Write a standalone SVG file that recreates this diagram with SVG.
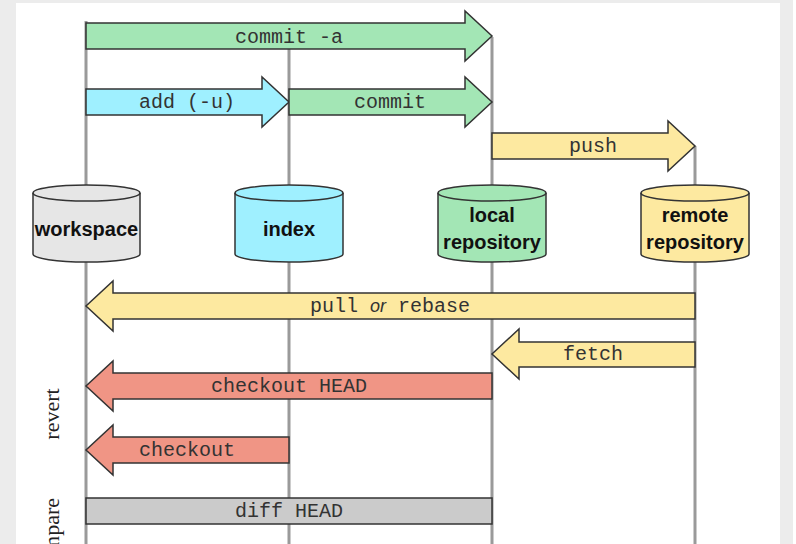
<svg xmlns="http://www.w3.org/2000/svg" width="796" height="544" viewBox="0 0 796 544">
<defs>
<style>
.lane{stroke:#9a9a9a;stroke-width:3;fill:none}
.arr{stroke:#333;stroke-width:1.5;stroke-linejoin:miter}
.green{fill:#a3e6b5}
.cyan{fill:#9ff0ff}
.yellow{fill:#fde9a0}
.red{fill:#f09585}
.gray{fill:#cbcbcb}
.cyl{stroke:#333;stroke-width:1.5}
.lbl{font-family:"Liberation Mono","Courier New",monospace;font-size:20px;fill:#333;text-anchor:middle}
.node{font-family:"Liberation Sans",Arial,sans-serif;font-weight:bold;font-size:20px;fill:#111;text-anchor:middle}
.side{font-family:"Liberation Serif","Times New Roman",serif;font-size:22px;fill:#222;text-anchor:middle}
</style>
</defs>
<rect x="0" y="0" width="796" height="544" fill="#ececec"/>
<rect x="16" y="3" width="764" height="541" fill="#ffffff"/>
<rect x="793" y="0" width="3" height="544" fill="#ffffff"/>

<g id="lanes">
<line class="lane" x1="86" y1="21" x2="86" y2="544"/>
<line class="lane" x1="289" y1="49" x2="289" y2="544"/>
<line class="lane" x1="492" y1="37" x2="492" y2="544"/>
<line class="lane" x1="695" y1="146" x2="695" y2="544"/>
</g>

<g id="connectors">
<g id="commit-a">
<polygon class="arr green" points="86,23 465,23 465,11 492,36 465,61 465,49 86,49"/>
<text class="lbl" x="289" y="43">commit -a</text>
</g>
<g id="add">
<polygon class="arr cyan" points="86,89 262,89 262,77 289,102 262,127 262,115 86,115"/>
<text class="lbl" x="187" y="108">add (-u)</text>
</g>
<g id="commit">
<polygon class="arr green" points="289,89 465,89 465,77 492,102 465,127 465,115 289,115"/>
<text class="lbl" x="390" y="108">commit</text>
</g>
<g id="push">
<polygon class="arr yellow" points="492,133 668,133 668,121 695,146 668,171 668,159 492,159"/>
<text class="lbl" x="593" y="152">push</text>
</g>
<g id="pull">
<polygon class="arr yellow" points="695,293 113,293 113,281 86,306 113,331 113,319 695,319"/>
<text class="lbl" x="390" y="312">pull <tspan font-family="Liberation Sans, Arial, sans-serif" font-style="italic" font-size="18">or</tspan> rebase</text>
</g>
<g id="fetch">
<polygon class="arr yellow" points="695,342 519,342 519,329 492,354 519,379 519,367 695,367"/>
<text class="lbl" x="593" y="360">fetch</text>
</g>
<g id="checkout-head">
<polygon class="arr red" points="492,373 113,373 113,361 86,386 113,411 113,399 492,399"/>
<text class="lbl" x="289" y="392">checkout HEAD</text>
</g>
<g id="checkout">
<polygon class="arr red" points="289,437 113,437 113,425 86,450 113,475 113,463 289,463"/>
<text class="lbl" x="187" y="456">checkout</text>
</g>
<g id="diff-head">
<rect class="arr gray" x="86" y="498" width="406" height="26"/>
<text class="lbl" x="289" y="517">diff HEAD</text>
</g>
</g>

<g id="workspace">
<path class="cyl" fill="#e6e6e6" d="M33,193 L33,254 A53.5,8 0 0 0 140,254 L140,193 A53.5,8 0 0 0 33,193 Z"/>
<path class="cyl" fill="none" d="M33,193 A53.5,8 0 0 0 140,193"/>
<text class="node" x="86.5" y="236">workspace</text>
</g>
<g id="index">
<path class="cyl" fill="#9ff0ff" d="M235,193 L235,254 A54,8 0 0 0 343,254 L343,193 A54,8 0 0 0 235,193 Z"/>
<path class="cyl" fill="none" d="M235,193 A54,8 0 0 0 343,193"/>
<text class="node" x="289" y="236">index</text>
</g>
<g id="local">
<path class="cyl" fill="#a3e6b5" d="M438,193 L438,254 A54,8 0 0 0 546,254 L546,193 A54,8 0 0 0 438,193 Z"/>
<path class="cyl" fill="none" d="M438,193 A54,8 0 0 0 546,193"/>
<text class="node" x="492" y="222">local</text>
<text class="node" x="492" y="249">repository</text>
</g>
<g id="remote">
<path class="cyl" fill="#fde9a0" d="M641,193 L641,254 A54,8 0 0 0 749,254 L749,193 A54,8 0 0 0 641,193 Z"/>
<path class="cyl" fill="none" d="M641,193 A54,8 0 0 0 749,193"/>
<text class="node" x="695" y="222">remote</text>
<text class="node" x="695" y="249">repository</text>
</g>

<g id="side-labels">
<text class="side" transform="translate(59,414) rotate(-90)">revert</text>
<text class="side" style="text-anchor:end" transform="translate(59,498) rotate(-90)">compare</text>
</g>
</svg>
